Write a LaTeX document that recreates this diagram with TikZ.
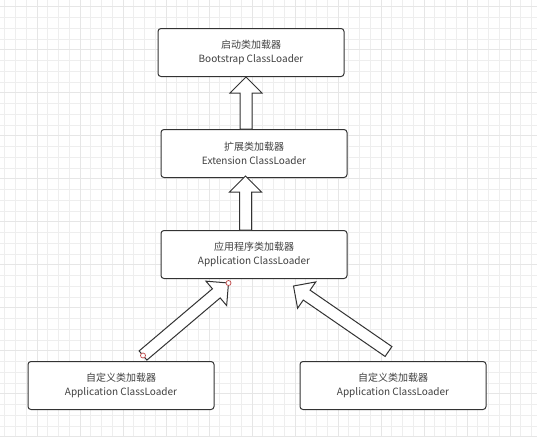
\documentclass[tikz,border=0pt]{standalone}
\usepackage{fontspec}
\setmainfont{Noto Sans CJK SC}
\definecolor{GridMinor} {RGB}{238,238,238}
\definecolor{GridMajor} {RGB}{230,230,230}
\definecolor{BoxLine}   {RGB}{51,51,51}
\definecolor{HandleRed} {RGB}{190,70,70}
\usetikzlibrary{positioning,calc}

% hollow block arrow from #1 (tail) to #2 (tip)
\newcommand\blockarrow[2]{%
  \coordinate (ba-m) at ($(#2)!16pt!(#1)$);
  \draw[fatarrow] ($(#1)!6pt!90:(#2)$) -- ($(ba-m)!6pt!-90:(#1)$)
    -- ($(ba-m)!16pt!-90:(#1)$) -- (#2) -- ($(ba-m)!16pt!90:(#1)$)
    -- ($(ba-m)!6pt!90:(#1)$) -- ($(#1)!6pt!-90:(#2)$) -- cycle;}

\begin{document}
\begin{tikzpicture}[x=1pt,y=-1pt,
  box/.style={draw=BoxLine,line width=1pt,fill=white,rounded corners=3pt,
              minimum width=186pt,minimum height=48pt,align=center,
              text=black!75,font=\fontsize{10}{14}\selectfont},
  fatarrow/.style={draw=BoxLine,line width=1pt,fill=white,line join=miter},
  gridminor/.style={GridMinor,line width=0.7pt},
  gridmajor/.style={GridMajor,line width=1pt},
  handle/.style={HandleRed,line width=0.7pt,fill=white}]
  \useasboundingbox[fill=white] (0,0) rectangle (537,437);
  % background grid
  \foreach \k in {0,...,49} \draw[gridminor] (4.7+\k*10.75,0) -- ++(0,437);
  \foreach \k in {0,...,40} \draw[gridminor] (0,6.7+\k*10.75) -- ++(537,0);
  \foreach \k in {0,...,12} \draw[gridmajor] (37+\k*43,0) -- ++(0,437);
  \foreach \k in {0,...,10} \draw[gridmajor] (0,6.7+\k*43) -- ++(537,0);

  \node[box] (boot) at (251,52.5) {启动类加载器\\Bootstrap ClassLoader};
  \node[box,below=52pt of boot,xshift=3pt] (ext) {扩展类加载器\\Extension ClassLoader};
  \node[box,below=52pt of ext] (app) {应用程序类加载器\\Application ClassLoader};
  \node[box,below=82pt of app,xshift=-133pt] (custA) {自定义类加载器\\Application ClassLoader};
  \node[box,below=82pt of app,xshift=139pt] (custB) {自定义类加载器\\Application ClassLoader};

  \coordinate (a1) at ($(ext.north)+(-8,0)$);
  \coordinate (b1) at (boot.south -| a1);
  \coordinate (a2) at ($(app.north)+(-8.5,0)$);
  \coordinate (b2) at ($(ext.south -| a2)+(0,-2)$);
  \coordinate (a3) at ($(custA.north)+(22,-5.5)$);
  \coordinate (b3) at ($(app.south)+(-25.5,4)$);
  \coordinate (a4) at ($(custB.north)+(-4.5,-9.5)$);
  \coordinate (b4) at ($(app.south)+(39.5,7)$);

  \blockarrow{a1}{b1}
  \blockarrow{a2}{b2}
  \blockarrow{a3}{b3}
  \blockarrow{a4}{b4}
  \draw[handle] (a3) circle (2.5pt);
  \draw[handle] (b3) circle (2.5pt);
\end{tikzpicture}
\end{document}
